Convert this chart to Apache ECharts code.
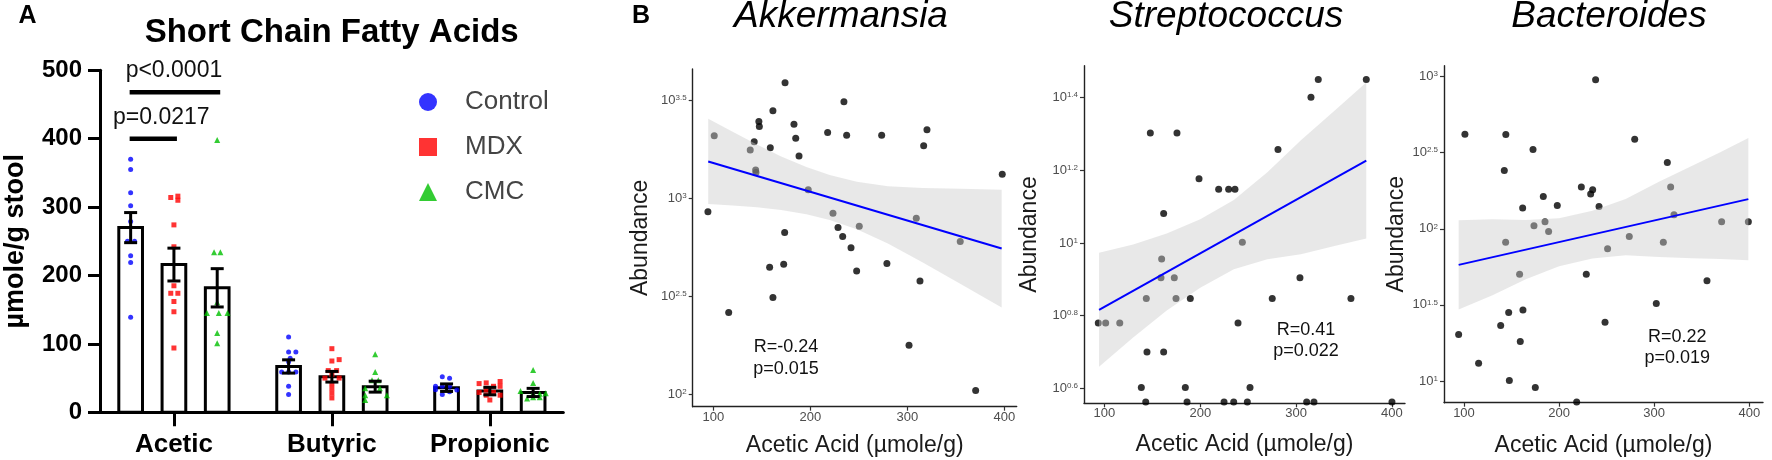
<!DOCTYPE html>
<html><head><meta charset="utf-8">
<script src="https://cdn.jsdelivr.net/npm/echarts@6/dist/echarts.min.js"></script>
<style>html,body{margin:0;padding:0;background:#fff}#c{width:1772px;height:460px}</style>
</head><body><div id="c"></div>
<script>
const FF = "'Liberation Sans', Arial, Helvetica, sans-serif";
// ---------- Panel A data ----------
const categories = ['Acetic', 'Butyric', 'Propionic'];
const groupNames = ['Control', 'MDX', 'CMC'];
const controlMean = [270, 67, 36];
const controlSem = [22, 9.7, 5.5];
const mdxMean = [216, 52, 31];
const mdxSem = [24, 7.8, 5.5];
const cmcMean = [182, 37.5, 29];
const cmcSem = [28, 8, 6];
const ctrlAce = [370, 355, 321, 302, 279, 250, 250, 229, 219, 139];
const ctrlAceJ = [0, 0, 0, 0, 0, -0.02, 0.025, 0, 0, 0];
const mdxAce = [316, 314, 310, 274, 242, 185, 174, 174, 162, 147, 94];
const mdxAceJ = [0.025, -0.02, 0.025, 0, 0, 0, -0.02, 0.025, 0, 0, 0];
const cmcAce = [398, 234, 234, 161, 145, 145, 145, 116, 101];
const cmcAceJ = [0, -0.02, 0.02, 0, -0.065, 0.01, 0.065, 0, 0];
const ctrlBut = [110, 88, 88, 79, 74, 59, 59, 59, 38, 26];
const ctrlButJ = [0, 0, 0.046, 0.01, 0, -0.044, 0, 0.046, 0, 0];
const mdxBut = [93, 77, 75, 61, 61, 55, 50, 50, 42, 35, 28, 21];
const mdxButJ = [0, 0.046, 0, -0.023, 0.03, 0, -0.044, 0.046, 0, 0, 0, 0];
const cmcBut = [85, 59, 47, 47, 35, 35, 25, 25, 18];
const cmcButJ = [0, 0, -0.02, 0.02, -0.063, 0.03, -0.063, 0.074, -0.063];
const ctrlPro = [52, 49.6, 38, 38, 38, 33, 32.5, 30, 26];
const ctrlProJ = [-0.027, 0.019, -0.07, -0.027, 0.019, -0.07, 0.065, 0.019, -0.027];
const mdxPro = [42, 43, 38, 45, 38, 29, 33, 29, 25, 25, 18];
const mdxProJ = [-0.068, -0.023, 0.023, 0.065, 0.065, -0.068, -0.023, 0.023, -0.023, 0.065, 0];
const cmcPro = [62, 43, 31, 28, 27, 28, 20, 22, 22];
const cmcProJ = [0, 0, -0.08, 0, 0.042, 0.08, -0.038, 0, 0.042];
const sigLabels = ['p<0.0001', 'p=0.0217'];
const sigGroups = [[0, 2], [0, 1]];
const sigY = [468, 400];

// ---------- Panel B data (x = acetic acid, y = log10 abundance) ----------
const panelTitles = ['Akkermansia', 'Streptococcus', 'Bacteroides'];
const rLabels = ['R=-0.24', 'R=0.41', 'R=0.22'];
const pLabels = ['p=0.015', 'p=0.022', 'p=0.019'];
const xTicksB = [100, 200, 300, 400];
const akkTicks = [2, 2.5, 3, 3.5];
const strTicks = [0.6, 0.8, 1, 1.2, 1.4];
const bacTicks = [1, 1.5, 2, 2.5, 3];
const akkX = [94.5,101,115.9,138.1,142.2,143.7,144,147,147.5,158.1,158.8,161.5,161.5,172.6,173.6,174,183.2,185,188.4,197.9,217.9,223.4,228.6,233.4,234.7,237.5,242,247.8,250.5,273.6,279,301.8,309.3,313.1,316.9,320.3,354.6,370.5,397.9];
const akkY = [2.930,3.318,2.417,3.245,3.287,3.143,3.131,3.391,3.365,2.648,3.257,3.445,2.493,2.663,2.825,3.588,3.377,3.305,3.214,3.042,3.335,2.923,2.850,2.805,3.491,3.321,2.747,2.629,2.856,3.321,2.667,2.250,2.898,2.578,3.267,3.348,2.779,2.020,3.122];
const strX = [93.6,101.3,116,138.5,143.1,143.7,144.4,147.9,159.7,159,161.8,161.8,172.9,174.7,175.7,184.4,186.2,189.6,198.7,219.2,224.8,229.6,234.9,236.2,239.4,243.9,249.1,251.9,275.1,281.1,304,311,318.6,315.5,323.1,357.2,373.2,400];
const strY = [0.780,0.780,0.780,0.6025,0.562,0.847,0.700,1.303,0.956,0.904,1.081,0.700,0.904,0.847,1.303,0.6025,0.562,0.847,1.177,1.148,0.562,1.148,0.562,1.148,0.780,1.002,0.562,0.6025,0.847,1.257,0.904,0.562,0.562,1.401,1.450,0.847,1.450,0.562];
const bacX = [94.4,101,115.4,138.6,142.4,143.8,144,147,147.7,158.5,159.2,161.7,162,172.6,173.6,175,183.4,185.2,189,198.1,218.5,223.4,228.6,233.2,235.3,238.4,242,248.3,251,273.8,279.5,302.2,309.6,313.8,317.3,320.8,355.5,370.9,399];
const bacY = [1.306,2.622,1.117,1.365,2.383,1.912,2.620,1.450,1.003,1.702,1.260,2.136,1.466,2.521,2.020,0.957,2.212,2.046,1.982,2.153,0.862,2.274,1.702,2.228,2.256,2.979,2.147,1.385,1.869,1.950,2.589,1.509,1.912,2.436,2.274,2.092,1.658,2.046,2.046];
const akkFitX = [94.8, 397.3], akkFitY = [3.187, 2.743];
const strFitX = [94.4, 373.2], strFitY = [0.816, 1.227];
const bacFitX = [94.4, 399], bacFitY = [1.763, 2.195];
const akkBandX = [94.8,120,145,170,196,220,248,280,316,355,397.3];
const akkBandUp = [3.404,3.338,3.273,3.212,3.158,3.118,3.083,3.061,3.052,3.048,3.043];
const akkBandLo = [2.970,2.962,2.953,2.940,2.918,2.888,2.841,2.769,2.672,2.562,2.443];
const strBandX = [94.4,130,165,200,235,270,305,340,373.2];
const strBandUp = [0.973,0.996,1.026,1.065,1.118,1.195,1.283,1.364,1.442];
const strBandLo = [0.659,0.740,0.814,0.877,0.928,0.955,0.969,0.992,1.012];
const bacBandX = [94.4,130,165,200,235,270,305,340,370,399];
const bacBandUp = [2.057,2.063,2.058,2.070,2.119,2.196,2.310,2.415,2.505,2.597];
const bacBandLo = [1.469,1.563,1.668,1.754,1.805,1.826,1.815,1.806,1.801,1.793];

// ---------- build ----------
const groupColors = ['#0000ff', '#ff0000', '#00bf00'];
const groupSymbols = ['circle', 'rect', 'triangle'];
const groupSizes = [5, 5, 6];
const groupOffset = [-0.274, 0, 0.274];
const means = [controlMean, mdxMean, cmcMean];
const sems = [controlSem, mdxSem, cmcSem];
const groupPoints = [
  [[ctrlAce, ctrlAceJ], [ctrlBut, ctrlButJ], [ctrlPro, ctrlProJ]],
  [[mdxAce, mdxAceJ], [mdxBut, mdxButJ], [mdxPro, mdxProJ]],
  [[cmcAce, cmcAceJ], [cmcBut, cmcButJ], [cmcPro, cmcProJ]]
];
const barData = [];
for (let c = 0; c < 3; c++) for (let g = 0; g < 3; g++) barData.push([c + groupOffset[g], means[g][c], sems[g][c]]);

const series = [];
series.push({
  type: 'custom', name: 'bars', xAxisIndex: 0, yAxisIndex: 0, z: 1, silent: true, clip: false,
  data: barData,
  renderItem: (p, api) => {
    const x = api.value(0), m = api.value(1);
    const top = api.coord([x, m]), bot = api.coord([x, 0]);
    const w = api.size([0.15, 0])[0];
    return { type: 'rect', shape: { x: top[0] - w / 2, y: top[1], width: w, height: bot[1] - top[1] },
      style: { fill: '#fff', stroke: '#000', lineWidth: 3 } };
  }
});
for (let g = 0; g < 3; g++) {
  const data = [];
  for (let c = 0; c < 3; c++) {
    const [vals, jit] = groupPoints[g][c];
    vals.forEach((v, i) => data.push([c + groupOffset[g] + jit[i], v]));
  }
  series.push({ type: 'scatter', name: groupNames[g], xAxisIndex: 0, yAxisIndex: 0, z: 2,
    symbol: groupSymbols[g], symbolSize: groupSizes[g], itemStyle: { color: groupColors[g] }, data });
}
series.push({
  type: 'custom', name: 'err', xAxisIndex: 0, yAxisIndex: 0, z: 3, silent: true, clip: false,
  data: barData,
  renderItem: (p, api) => {
    const x = api.value(0), m = api.value(1), s = api.value(2);
    const hi = api.coord([x, m + s]), lo = api.coord([x, m - s]);
    const cw = 6.5, st = { stroke: '#000', lineWidth: 3 };
    return { type: 'group', children: [
      { type: 'line', shape: { x1: hi[0], y1: hi[1], x2: lo[0], y2: lo[1] }, style: st },
      { type: 'line', shape: { x1: hi[0] - cw, y1: hi[1], x2: hi[0] + cw, y2: hi[1] }, style: st },
      { type: 'line', shape: { x1: lo[0] - cw, y1: lo[1], x2: lo[0] + cw, y2: lo[1] }, style: st }
    ] };
  }
});
series.push({
  type: 'custom', name: 'sig', xAxisIndex: 0, yAxisIndex: 0, z: 3, silent: true, clip: false,
  data: sigY.map((y, i) => [groupOffset[sigGroups[i][0]], groupOffset[sigGroups[i][1]], y, i]),
  renderItem: (p, api) => {
    const a = api.coord([api.value(0), api.value(2)]), b = api.coord([api.value(1), api.value(2)]);
    const i = api.value(3);
    const tx = (a[0] + b[0]) / 2 + (i === 1 ? 9 : 0);
    return { type: 'group', children: [
      { type: 'line', shape: { x1: a[0] - 1, y1: a[1], x2: b[0] + 3, y2: b[1] }, style: { stroke: '#000', lineWidth: 4.5 } },
      { type: 'text', x: tx, y: a[1] - 21.5, style: { text: sigLabels[i], font: '23px ' + FF, fill: '#111', align: 'center', verticalAlign: 'middle' } }
    ] };
  }
});

const panels = [
  { x: akkX, y: akkY, fx: akkFitX, fy: akkFitY, bx: akkBandX, bu: akkBandUp, bl: akkBandLo },
  { x: strX, y: strY, fx: strFitX, fy: strFitY, bx: strBandX, bu: strBandUp, bl: strBandLo },
  { x: bacX, y: bacY, fx: bacFitX, fy: bacFitY, bx: bacBandX, bu: bacBandUp, bl: bacBandLo }
];
panels.forEach((pn, k) => {
  const idx = k + 1;
  series.push({ type: 'scatter', name: panelTitles[k] + ' points', xAxisIndex: idx, yAxisIndex: idx, z: 2,
    symbolSize: 7, itemStyle: { color: '#000' }, data: pn.x.map((v, i) => [v, pn.y[i]]) });
  series.push({ type: 'custom', name: panelTitles[k] + ' band', xAxisIndex: idx, yAxisIndex: idx, z: 3, silent: true, clip: false,
    data: [[pn.bx[0], pn.bu[0]]],
    renderItem: (p, api) => {
      const pts = [];
      for (let i = 0; i < pn.bx.length; i++) pts.push(api.coord([pn.bx[i], pn.bu[i]]));
      for (let i = pn.bx.length - 1; i >= 0; i--) pts.push(api.coord([pn.bx[i], pn.bl[i]]));
      return { type: 'polygon', shape: { points: pts, smooth: 0 }, style: { fill: 'rgba(205,205,205,0.45)' } };
    } });
  series.push({ type: 'line', name: panelTitles[k] + ' fit', xAxisIndex: idx, yAxisIndex: idx, z: 4, silent: true,
    symbol: 'none', lineStyle: { color: '#0000ff', width: 2 }, data: pn.fx.map((v, i) => [v, pn.fy[i]]) });
});

const supFmt = v => '{b|10}{s|' + (+(+v).toFixed(2)) + '}';
const richB = { b: { fontSize: 13, color: '#4d4d4d', fontFamily: FF }, s: { fontSize: 8, color: '#4d4d4d', fontFamily: FF, verticalAlign: 'top' } };

const gridsB = [
  { left: 692.7, top: 69, width: 324, height: 337.7 },
  { left: 1084, top: 65.7, width: 321, height: 337.6 },
  { left: 1444, top: 65.7, width: 319, height: 337 }
];
const xRangeB = [[78.8, 412.8], [78.7, 413.6], [79, 414.4]];
const yRangeB = [[1.937, 3.658], [0.5587, 1.488], [0.857, 3.072]];
const yTicksB = [akkTicks, strTicks, bacTicks];
const yNameGap = [41, 42.5, 36];
const xNameGap = [27, 30, 31];

const grids = [{ left: 100, top: 70.3, width: 463.3, height: 342, outerBoundsMode: 'none' }]
  .concat(gridsB.map(g => Object.assign({ outerBoundsMode: 'none' }, g)));

const xAxes = [{
  type: 'value', gridIndex: 0, min: -0.468, max: 2.465,
  axisLine: { show: true, onZero: false, lineStyle: { color: '#000', width: 3 } },
  axisTick: { show: true, length: 14, lineStyle: { color: '#000', width: 3 }, customValues: [0, 1, 2] },
  axisLabel: { customValues: [0, 1, 2], formatter: v => categories[Math.round(v)], fontSize: 26, fontWeight: 'bold', color: '#000', fontFamily: FF, margin: 20 },
  splitLine: { show: false }
}];
const yAxes = [{
  type: 'value', gridIndex: 0, min: 0, max: 500, interval: 100,
  axisLine: { show: true, onZero: false, lineStyle: { color: '#000', width: 3 } },
  axisTick: { show: true, length: 12, lineStyle: { color: '#000', width: 3 } },
  axisLabel: { fontSize: 24, fontWeight: 'bold', color: '#000', fontFamily: FF, margin: 18 },
  splitLine: { show: false },
  name: 'µmole/g stool', nameLocation: 'middle', nameGap: 70.5, nameMoveOverlap: false,
  nameTextStyle: { fontSize: 27, fontWeight: 'bold', color: '#000', fontFamily: FF }
}];
for (let k = 0; k < 3; k++) {
  xAxes.push({
    type: 'value', gridIndex: k + 1, min: xRangeB[k][0], max: xRangeB[k][1],
    axisLine: { show: true, onZero: false, lineStyle: { color: '#222', width: 1.4 } },
    axisTick: { show: true, length: 4, lineStyle: { color: '#333', width: 1.2 }, customValues: xTicksB },
    axisLabel: { customValues: xTicksB, fontSize: 13, color: '#4d4d4d', fontFamily: FF, margin: 4 },
    splitLine: { show: false },
    name: 'Acetic Acid (µmole/g)', nameLocation: 'middle', nameGap: xNameGap[k], nameMoveOverlap: false,
    nameTextStyle: { fontSize: 23, color: '#1a1a1a', fontFamily: FF }
  });
  yAxes.push({
    type: 'value', gridIndex: k + 1, min: yRangeB[k][0], max: yRangeB[k][1],
    axisLine: { show: true, onZero: false, lineStyle: { color: '#222', width: 1.4 } },
    axisTick: { show: true, length: 4, lineStyle: { color: '#333', width: 1.2 }, customValues: yTicksB[k] },
    axisLabel: { customValues: yTicksB[k], formatter: supFmt, rich: richB, margin: 6 },
    splitLine: { show: false },
    name: 'Abundance', nameLocation: 'middle', nameGap: yNameGap[k], nameMoveOverlap: false,
    nameTextStyle: { fontSize: 23, color: '#1a1a1a', fontFamily: FF }
  });
}

const txt = (x, y, text, font, fill) => ({ type: 'text', x, y, silent: true,
  style: { text, font: font + ' ' + FF, fill: fill || '#000', align: 'center', verticalAlign: 'middle' } });
const titleX = [841, 1226, 1609];
const rPos = [[786, 347.3], [1306, 330], [1677.3, 336.7]];
const graphic = [
  txt(27.5, 16, 'A', 'bold 25px'),
  txt(331.7, 33.3, 'Short Chain Fatty Acids', 'bold 33px'),
  txt(641, 16, 'B', 'bold 25px')
];
for (let k = 0; k < 3; k++) {
  graphic.push(txt(titleX[k], 17, panelTitles[k], 'italic 37px'));
  graphic.push(txt(rPos[k][0], rPos[k][1], rLabels[k], '18px', '#111'));
  graphic.push(txt(rPos[k][0], rPos[k][1] + 21.5, pLabels[k], '18px', '#111'));
}

const chart = echarts.init(document.getElementById('c'), null, { renderer: 'canvas' });
chart.setOption({
  backgroundColor: '#fff',
  animation: false,
  textStyle: { fontFamily: FF },
  grid: grids,
  xAxis: xAxes,
  yAxis: yAxes,
  legend: {
    data: groupNames, orient: 'vertical', left: 414, top: 84, itemWidth: 18, itemHeight: 18, itemGap: 19,
    textStyle: { fontSize: 26, color: '#444', fontFamily: FF, lineHeight: 26, padding: [0, 0, 0, 23] },
    selectedMode: false
  },
  graphic,
  series
});
</script></body></html>
